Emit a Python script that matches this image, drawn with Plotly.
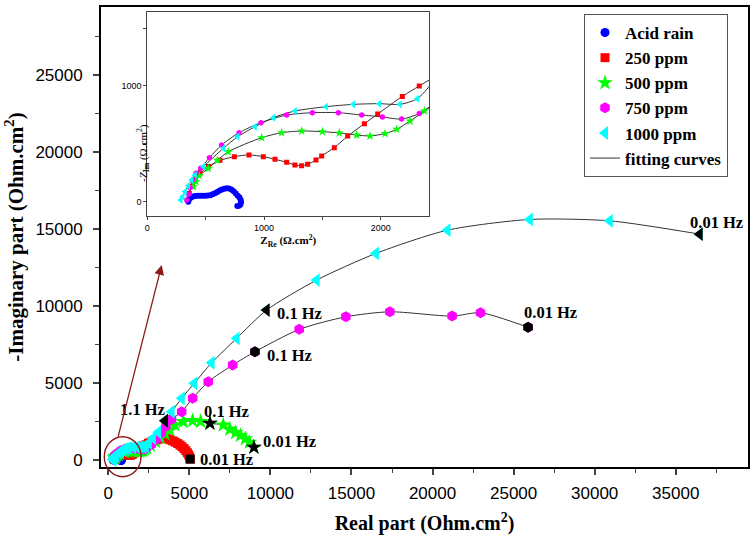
import plotly.graph_objects as go

# ---------------- data ----------------
acid_x = [351, 360, 375, 392, 410, 430, 452, 474, 496, 518, 540, 560, 580, 600, 620, 640, 660, 680, 700, 720, 740, 758, 775, 790, 800, 803, 798, 785, 771]
acid_y = [0, 22, 36, 44, 48, 50, 52, 52, 52, 53, 56, 63, 72, 84, 96, 106, 112, 115, 113, 105, 90, 70, 52, 35, 15, -5, -25, -35, -37]

ppm250_x = [360, 380, 409, 451, 523, 623, 746, 871, 994, 1094, 1194, 1265, 1322, 1374, 1445, 1494, 1602, 1717, 1860, 1974, 2185, 2330, 2480, 2630, 2780, 2930, 3080, 3230, 3380, 3530, 3680, 3830, 3980, 4130, 4280, 4420, 4550, 4670, 4780, 4880, 4960, 5020, 5050]
ppm250_y = [70, 130, 196, 245, 303, 357, 389, 404, 389, 366, 340, 317, 311, 323, 360, 395, 467, 567, 674, 758, 910, 1000, 1090, 1170, 1240, 1300, 1350, 1390, 1410, 1400, 1370, 1310, 1240, 1160, 1070, 970, 860, 740, 610, 470, 330, 190, 60]

ppm500_x = [394, 417, 446, 523, 600, 694, 980, 1151, 1323, 1500, 1645, 1794, 1908, 2037, 2137, 2251, 2374, 2600, 2900, 3200, 3500, 3800, 4112, 4624, 5203, 5700, 6270, 7090, 7500, 7850, 8150, 8450, 8700, 8982]
ppm500_y = [130, 173, 225, 288, 357, 432, 553, 596, 611, 605, 594, 576, 568, 588, 625, 697, 784, 950, 1200, 1450, 1700, 1950, 2273, 2489, 2552, 2500, 2383, 2273, 2000, 1780, 1600, 1380, 1150, 825]

ppm750_x = [337, 351, 366, 389, 417, 457, 532, 637, 786, 974, 1194, 1414, 1637, 1837, 2014, 2179, 2330, 2650, 2950, 3250, 3550, 3900, 4525, 5203, 6165, 7669, 9044, 11776, 14654, 17366, 21208, 22958, 25893]
ppm750_y = [15, 63, 121, 187, 245, 288, 380, 490, 596, 683, 749, 769, 769, 749, 732, 714, 763, 1000, 1350, 1750, 2200, 2650, 3137, 4007, 5085, 6169, 7033, 8488, 9306, 9630, 9351, 9566, 8618]

ppm1000_x = [286, 303, 323, 351, 380, 409, 480, 652, 775, 923, 1080, 1266, 1531, 1765, 1988, 2165, 2314, 2500, 2750, 3080, 3495, 3908, 4525, 5302, 6375, 7916, 9765, 12848, 16504, 20924, 25998, 30930, 36478]
ppm1000_y = [15, 43, 87, 138, 187, 231, 303, 461, 562, 648, 726, 784, 821, 841, 847, 841, 890, 1100, 1420, 1800, 2552, 3137, 4007, 4981, 6319, 7903, 9741, 11689, 13423, 14936, 15631, 15540, 14676]

series_names = ["Acid rain", "250 ppm", "500 ppm", "750 ppm", "1000 ppm"]

# highlighted frequency points (series, index in series, label)
hl_series = ["250 ppm", "500 ppm", "500 ppm", "750 ppm", "750 ppm", "1000 ppm", "1000 ppm", "1000 ppm"]
hl_index = [-1, 26, -1, 26, -1, 20, 26, -1]
hl_label = ["0.01 Hz", "0.1 Hz", "0.01 Hz", "0.1 Hz", "0.01 Hz", "1.1 Hz", "0.1 Hz", "0.01 Hz"]

x_ticks_main = [0, 5000, 10000, 15000, 20000, 25000, 30000, 35000]
y_ticks_main = [0, 5000, 10000, 15000, 20000, 25000]
x_ticks_inset = [0, 1000, 2000]
y_ticks_inset = [0, 1000]

# ---------------- styles ----------------
data = {
    "Acid rain": (acid_x, acid_y),
    "250 ppm": (ppm250_x, ppm250_y),
    "500 ppm": (ppm500_x, ppm500_y),
    "750 ppm": (ppm750_x, ppm750_y),
    "1000 ppm": (ppm1000_x, ppm1000_y),
}
style = {
    "Acid rain": dict(color="#0000FF", symbol="circle", size=9, isize=6),
    "250 ppm": dict(color="#FF0000", symbol="square", size=9, isize=5),
    "500 ppm": dict(color="#00FF00", symbol="star", size=12, isize=7),
    "750 ppm": dict(color="#FF00FF", symbol="hexagon", size=11, isize=6),
    "1000 ppm": dict(color="#00FFFF", symbol="triangle-left", size=12, isize=7),
}
# label offsets in px: (xanchor, xshift, yshift)
hl_offsets = [("left", 8, 0), ("center", 17, 12), ("left", 7, 6), ("left", 10, -4),
              ("center", 22, 15), ("right", 2, 11), ("left", 8, -3), ("center", 17, 12)]

SERIF = "Liberation Serif"
SANS = "Liberation Sans"
DARKRED = "#8B1A1A"
FITC = "#333333"

W, H = 754, 542
ML, MR, MT, MB = 101, 6, 7, 75
PW, PH = W - ML - MR, H - MT - MB

def px_x(p):
    return (p - ML) / PW

def px_y(p):
    return (H - MB - p) / PH

fig = go.Figure()

# fitting curves (main + inset)
first = True
for name in series_names[1:]:
    xs, ys = data[name]
    for xa, ya in (("x", "y"), ("x2", "y2")):
        fig.add_trace(go.Scatter(
            x=xs, y=ys, mode="lines", xaxis=xa, yaxis=ya,
            line=dict(color=FITC, width=1, shape="spline", smoothing=0.7),
            name="<b>fitting curves</b>", showlegend=(first and xa == "x"),
            legendrank=10, hoverinfo="skip"))
    first = False

# markers
for rank, name in enumerate(series_names):
    xs, ys = data[name]
    st = style[name]
    fig.add_trace(go.Scatter(
        x=xs, y=ys, mode="markers", xaxis="x", yaxis="y", name="<b>%s</b>" % name,
        legendrank=rank + 1,
        marker=dict(color=st["color"], symbol=st["symbol"], size=st["size"], line=dict(width=0))))
    fig.add_trace(go.Scatter(
        x=xs, y=ys, mode="markers", xaxis="x2", yaxis="y2", showlegend=False,
        marker=dict(color=st["color"], symbol=st["symbol"], size=st["isize"], line=dict(width=0))))

# highlighted frequency points
for i, (sname, idx, lab) in enumerate(zip(hl_series, hl_index, hl_label)):
    xs, ys = data[sname]
    st = style[sname]
    fig.add_trace(go.Scatter(
        x=[xs[idx]], y=[ys[idx]], mode="markers", showlegend=False,
        marker=dict(color="black", symbol=st["symbol"], size=st["size"], line=dict(width=0))))
    xan, xsh, ysh = hl_offsets[i]
    fig.add_annotation(x=xs[idx], y=ys[idx], xref="x", yref="y", text="<b>%s</b>" % lab,
                       showarrow=False, xanchor=xan, yanchor="middle", xshift=xsh, yshift=ysh,
                       font=dict(family=SERIF, size=16.5, color="black"))

# arrow from the circled origin region towards the inset
fig.add_annotation(x=3293, y=12663, xref="x", yref="y", ax=580, ay=1409, axref="x", ayref="y",
                   text="", showarrow=True, arrowhead=2, arrowsize=1.5, arrowwidth=1.3,
                   arrowcolor=DARKRED, standoff=0, startstandoff=0)
fig.add_shape(type="circle", xref="paper", yref="paper",
              x0=px_x(104.3), x1=px_x(141), y0=px_y(476.7), y1=px_y(436.7),
              line=dict(color=DARKRED, width=1.4))

# inset y title
fig.add_annotation(x=px_x(133), y=px_y(122), xref="paper", yref="paper",
                   text="<i>-Z</i><sub><b>Im</b></sub> (Ω.cm<sup>2</sup>)", textangle=-90,
                   showarrow=False, font=dict(family=SERIF, size=11, color="black"))

axis_common = dict(showgrid=False, zeroline=False, showline=True, mirror=True, ticks="outside",
                   automargin=False, tickformat="d")

fig.update_layout(
    width=W, height=H, margin=dict(l=ML, r=MR, t=MT, b=MB, autoexpand=False),
    paper_bgcolor="white", plot_bgcolor="white",
    showlegend=True,
    legend=dict(x=px_x(584), y=px_y(14), xanchor="left", yanchor="top",
                bordercolor="#555", borderwidth=1, bgcolor="white",
                font=dict(family=SERIF, size=17, color="black"), tracegroupgap=0),
    xaxis=dict(**axis_common, domain=[0, 1], anchor="y", range=[-450, 39457],
               tickvals=x_ticks_main, ticklen=6, tickwidth=1.5, linecolor="black", linewidth=1.8,
               minor=dict(dtick=2500, tick0=0, ticks="outside", ticklen=4, tickwidth=1.3),
               tickfont=dict(family=SANS, size=17, color="black"), ticklabelstandoff=4,
               title=dict(text="<b>Real part (Ohm.cm<sup>2</sup>)</b>", standoff=14,
                          font=dict(family=SERIF, size=20, color="black"))),
    yaxis=dict(**axis_common, domain=[0, 1], anchor="x", range=[-455, 29435],
               tickvals=y_ticks_main, ticklen=6, tickwidth=1.5, linecolor="black", linewidth=1.8,
               minor=dict(dtick=2500, tick0=0, ticks="outside", ticklen=4, tickwidth=1.3),
               tickfont=dict(family=SANS, size=17, color="black"), ticklabelstandoff=7,
               title=dict(text="<b>-Imaginary part (Ohm.cm<sup>2</sup>)</b>", standoff=6,
                          font=dict(family=SERIF, size=21, color="black"))),
    xaxis2=dict(**axis_common, domain=[px_x(147.3), px_x(429.3)], anchor="y2", range=[0, 2416],
                tickvals=x_ticks_inset, ticklen=3, tickwidth=1, linecolor="#444", linewidth=1,
                minor=dict(dtick=500, tick0=0, ticks="outside", ticklen=3, tickwidth=1),
                tickfont=dict(family=SANS, size=9, color="black"),
                title=dict(text="<b>Z<sub>Re</sub> (Ω.cm<sup>2</sup>)</b>", standoff=4,
                           font=dict(family=SERIF, size=11, color="black"))),
    yaxis2=dict(**axis_common, domain=[px_y(216), px_y(11.7)], anchor="x2", range=[-124, 1642],
                tickvals=y_ticks_inset, ticklen=3, tickwidth=1, linecolor="#444", linewidth=1,
                minor=dict(dtick=500, tick0=0, ticks="outside", ticklen=3, tickwidth=1),
                tickfont=dict(family=SANS, size=9, color="black")),
)

fig.write_html("out.html", config={"displayModeBar": False},
               post_script="document.body.style.margin='0';document.body.style.padding='0';"
                           "document.body.style.overflow='hidden';")
